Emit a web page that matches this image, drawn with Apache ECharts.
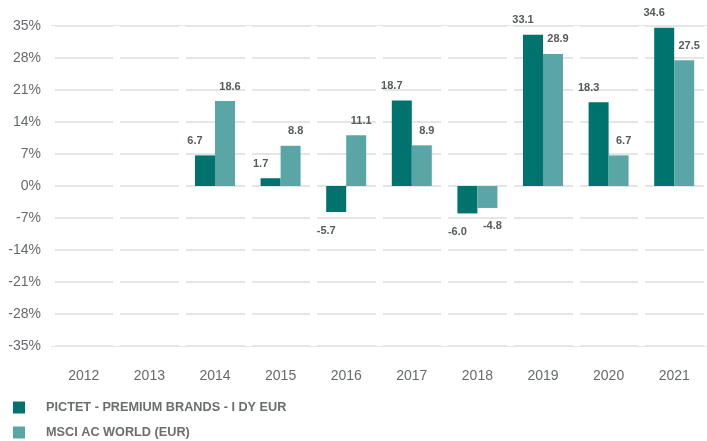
<!DOCTYPE html>
<html>
<head>
<meta charset="utf-8">
<script src="https://cdn.jsdelivr.net/npm/echarts@6/dist/echarts.min.js"></script>
<style>html,body{margin:0;padding:0;background:#fff;}#c{width:707px;height:441px;}</style>
</head>
<body>
<div id="c"></div>
<script>
const categories = ['2012','2013','2014','2015','2016','2017','2018','2019','2020','2021'];
const fundName = 'PICTET - PREMIUM BRANDS - I DY EUR';
const benchName = 'MSCI AC WORLD (EUR)';
const fundValues = [null, null, 6.7, 1.7, -5.7, 18.7, -6.0, 33.1, 18.3, 34.6];
const benchValues = [null, null, 18.6, 8.8, 11.1, 8.9, -4.8, 28.9, 6.7, 27.5];
const yTicks = [-35, -28, -21, -14, -7, 0, 7, 14, 21, 28, 35];

const labelBase = {
  show: true, fontSize: 11, fontWeight: 'bold', color: '#555a5e',
  fontFamily: 'Liberation Sans, Arial, sans-serif',
  formatter: p => p.value == null ? '' : Number(p.value).toFixed(1)
};
function mkData(vals, dx) {
  return vals.map(v => v == null ? null : {
    value: v,
    label: v >= 0 ? { position: 'top', distance: 9, offset: [dx, 0] }
                  : { position: 'bottom', distance: 13, offset: [dx, 0] }
  });
}
const legendBase = {
  orient: 'vertical', left: 8,
  itemWidth: 12, itemHeight: 12,
  icon: 'rect',
  textStyle: { fontSize: 12.7, fontWeight: 'bold', color: '#6b6e71',
    fontFamily: 'Liberation Sans, Arial, sans-serif', padding: [0, 0, 0, 16] }
};

const chart = echarts.init(document.getElementById('c'), null, { renderer: 'canvas' });
chart.setOption({
  animation: false,
  backgroundColor: '#fff',
  grid: { left: 51, top: 26, width: 660, height: 320, containLabel: false },
  legend: [
    Object.assign({}, legendBase, { top: 396, data: [fundName] }),
    Object.assign({}, legendBase, { top: 421, data: [benchName] })
  ],
  xAxis: {
    type: 'category', data: categories, z: 1,
    axisLine: { show: false }, axisTick: { show: false },
    axisLabel: { margin: 23, fontSize: 14, color: '#666a6e',
      fontFamily: 'Liberation Sans, Arial, sans-serif' },
    splitLine: { show: true, lineStyle: { color: '#ffffff', width: 7 } }
  },
  yAxis: {
    type: 'value', min: yTicks[0], max: yTicks[yTicks.length - 1], interval: 7,
    axisLine: { show: false }, axisTick: { show: false },
    axisLabel: { margin: 10, fontSize: 14, color: '#666a6e', formatter: '{value}%',
      fontFamily: 'Liberation Sans, Arial, sans-serif' },
    splitLine: { lineStyle: { color: '#dcdcdc', width: 1.5 } }
  },
  series: [
    { name: fundName, type: 'bar', barWidth: 20, barGap: '0%',
      itemStyle: { color: '#00736f' }, label: labelBase, data: mkData(fundValues, -10) },
    { name: benchName, type: 'bar', barWidth: 20, barGap: '0%',
      itemStyle: { color: '#5aa6a7' }, label: labelBase, data: mkData(benchValues, 5) }
  ]
});
</script>
</body>
</html>
